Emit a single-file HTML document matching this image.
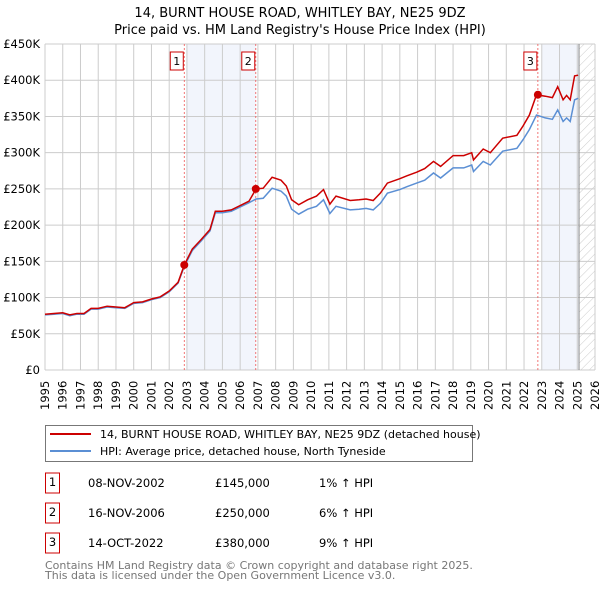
<!DOCTYPE html>
<html><head><meta charset="utf-8"><style>
body{margin:0;background:#fff;width:600px;height:590px;overflow:hidden;font-family:"DejaVu Sans","Liberation Sans",sans-serif;}
svg{position:absolute;left:0;top:0}
</style></head><body>
<svg width="600" height="590" font-family="DejaVu Sans, Liberation Sans, sans-serif">
<g id="titles">
<text x="300" y="17" text-anchor="middle" font-size="13">14, BURNT HOUSE ROAD, WHITLEY BAY, NE25 9DZ</text>
<text x="300" y="34" text-anchor="middle" font-size="13">Price paid vs. HM Land Registry's House Price Index (HPI)</text>
</g>
<defs><pattern id="hatch" width="6" height="6" patternUnits="userSpaceOnUse" patternTransform="rotate(45)"><line x1="0" y1="0" x2="0" y2="6" stroke="#ccc" stroke-width="1"/></pattern></defs>
<g id="bg"></g><g id="grid"></g><g id="axes"></g><g id="series"></g><g id="marks"></g>
<g id="legend">
<rect x="45.5" y="425.5" width="427" height="36" fill="#fff" stroke="#777"/>
<line x1="50" y1="434" x2="91" y2="434" stroke="#cc0000" stroke-width="2"/>
<text x="100" y="438" font-size="11">14, BURNT HOUSE ROAD, WHITLEY BAY, NE25 9DZ (detached house)</text>
<line x1="50" y1="451" x2="91" y2="451" stroke="#5b8fd4" stroke-width="2"/>
<text x="100" y="455" font-size="11">HPI: Average price, detached house, North Tyneside</text>
</g>
<g id="table" font-size="11.5"></g>
<text x="45" y="569" font-size="11" fill="#777">Contains HM Land Registry data © Crown copyright and database right 2025.</text>
<text x="45" y="579" font-size="11" fill="#777">This data is licensed under the Open Government Licence v3.0.</text>
</svg>
<script>
const yearTicks=[1995,1996,1997,1998,1999,2000,2001,2002,2003,2004,2005,2006,2007,2008,2009,2010,2011,2012,2013,2014,2015,2016,2017,2018,2019,2020,2021,2022,2023,2024,2025,2026];
const valueTicks=[0,50,100,150,200,250,300,350,400,450];
const valueLabels=["£0","£50K","£100K","£150K","£200K","£250K","£300K","£350K","£400K","£450K"];
const dates=[1995.0,1995.5,1996.0,1996.4,1996.8,1997.2,1997.6,1998.0,1998.5,1999.0,1999.5,2000.0,2000.5,2001.0,2001.5,2002.0,2002.5,2002.85,2003.3,2003.8,2004.3,2004.6,2005.0,2005.5,2006.0,2006.5,2006.9,2007.3,2007.8,2008.3,2008.6,2008.9,2009.3,2009.8,2010.3,2010.7,2011.06,2011.4,2012.2,2012.7,2013.1,2013.5,2013.9,2014.3,2015.0,2015.4,2015.95,2016.4,2016.9,2017.3,2018.0,2018.6,2019.05,2019.15,2019.7,2020.1,2020.8,2021.6,2021.95,2022.3,2022.7,2023.2,2023.6,2023.9,2024.2,2024.4,2024.6,2024.85,2025.05];
const hpi=[76,77,78,75,77,77,84,84,87,86,85,92,93,97,100,108,120,143,165,178,192,217,217,219,225,231,236,237,251,247,240,222,215,222,226,235,216,226,221,222,223,221,230,244,249,253,258,262,272,265,279,279,283,274,288,283,302,306,318,332,352,348,346,359,343,348,343,373,375];
const price=[77,78,79,76,78,78,85,85,88,87,86,93,94,98,101,109,121,145,167,180,194,219,219,221,227,233,250,251,266,262,254,235,228,235,240,249,229,240,234,235,236,234,244,258,264,268,273,278,288,281,296,296,300,290,305,300,320,324,337,352,380,378,376,391,373,379,373,406,407];
const saleLabels=["1","2","3"];
const saleDates=[2002.85,2006.88,2022.78];
const salePrices=[145,250,380];
const saleDateText=["08-NOV-2002","16-NOV-2006","14-OCT-2022"];
const salePriceText=["£145,000","£250,000","£380,000"];
const saleDiffText=["1% ↑ HPI","6% ↑ HPI","9% ↑ HPI"];
const NS="http://www.w3.org/2000/svg";
const L=45,R=595,T=44,B=370;
const xs=y=>L+(y-1995)*(R-L)/31;
const ys=v=>B-v*(B-T)/450;
function mk(tag,attrs,parent,text){const e=document.createElementNS(NS,tag);for(const k in attrs)e.setAttribute(k,attrs[k]);if(text!==undefined)e.textContent=text;document.getElementById(parent).appendChild(e);return e;}
let e;
e=mk('rect',{x:xs(saleDates[0])+2,y:T,width:xs(saleDates[1])-xs(saleDates[0])-2,height:B-T,fill:'#f2f5fc'},'bg');


e=mk('rect',{x:xs(saleDates[2])+4,y:T,width:xs(2025.1)-xs(saleDates[2])-4,height:B-T,fill:'#f2f5fc'},'bg');


e=mk('rect',{x:xs(2025.1),y:T,width:R-xs(2025.1),height:B-T,fill:'url(#hatch)'},'bg');


yearTicks.forEach(y=>{const x=xs(y);
 e=mk('line',{x1:x,x2:x,y1:T,y2:B,stroke:'#ccc'},'grid');
 
 
 e=mk('text',{x:0,y:0,'font-size':11.5,transform:`translate(${x+4},${B+40}) rotate(-90)`},'axes',String(y));
 
 });
valueTicks.forEach((v,i)=>{const y=ys(v);
 e=mk('line',{x1:L,x2:R,y1:y,y2:y,stroke:'#ccc'},'grid');
 
 
 e=mk('text',{x:L-5,y:y+4,'text-anchor':'end','font-size':11.5},'axes',valueLabels[i]);
 
 });
e=mk('line',{x1:xs(2025.1),x2:xs(2025.1),y1:T,y2:B,stroke:'#888'},'grid');


saleDates.forEach((d,i)=>{const x=xs(d);
 e=mk('line',{x1:x,x2:x,y1:T,y2:B,stroke:'#e55','stroke-dasharray':'2,2','stroke-width':0.8},'marks');
 
 
 e=mk('rect',{x:x-14,y:52,width:13,height:18,fill:'#fff',stroke:'#c00'},'marks');
 
 
 e=mk('text',{x:x-7.5,y:65,'text-anchor':'middle','font-size':11},'marks',saleLabels[i]);
 
 });
const pts=a=>dates.map((d,i)=>xs(d).toFixed(1)+','+ys(a[i]).toFixed(1)).join(' ');
e=mk('polyline',{points:pts(hpi),fill:'none',stroke:'#5b8fd4','stroke-width':1.5},'series');


e=mk('polyline',{points:pts(price),fill:'none',stroke:'#cc0000','stroke-width':1.5},'series');


saleDates.forEach((d,i)=>{
 e=mk('circle',{cx:xs(d),cy:ys(salePrices[i]),r:4,fill:'#cc0000'},'marks');
 
 
 const ry=483+i*30;
 e=mk('rect',{x:45.5,y:ry-10,width:14,height:20,fill:'#fff',stroke:'#c00'},'table');
 
 
 e=mk('text',{x:52.5,y:ry+3,'text-anchor':'middle'},'table',saleLabels[i]);
 
 
 e=mk('text',{x:88,y:ry+4},'table',saleDateText[i]);
 
 
 e=mk('text',{x:215,y:ry+4},'table',salePriceText[i]);
 
 
 e=mk('text',{x:319,y:ry+4},'table',saleDiffText[i]);
 
 });
</script>
</body></html>
